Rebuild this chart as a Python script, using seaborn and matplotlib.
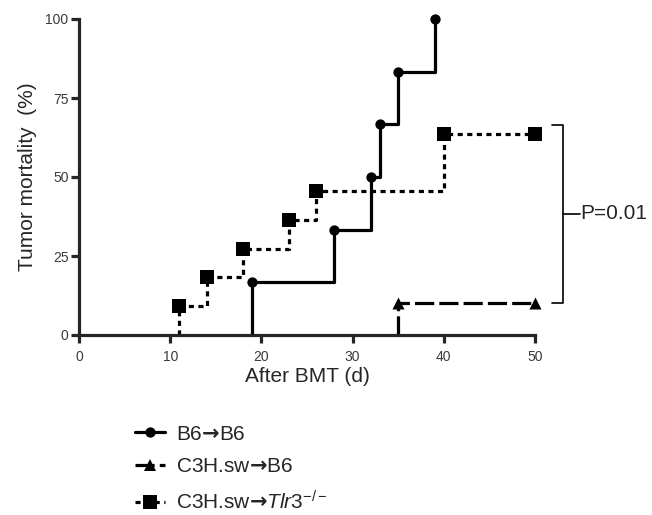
import numpy as np
import pandas as pd
import matplotlib
matplotlib.use("Agg")
import matplotlib.pyplot as plt
from matplotlib.lines import Line2D
import seaborn as sns

# Kaplan-Meier style data (day, cumulative mortality %)
b6_days = [19, 19, 28, 32, 33, 35, 39]
b6_mort = [0, 16.7, 33.3, 50.0, 66.7, 83.3, 100.0]

c3h_days = [35, 35, 50]
c3h_mort = [0, 10.0, 10.0]

tlr3_days = [11, 11, 14, 18, 23, 26, 40, 50]
tlr3_mort = [0, 9.1, 18.2, 27.3, 36.4, 45.5, 63.6, 63.6]

arrow = "$\\mathsf{\u2192}$"
group_labels = ["B6" + arrow + "B6", "C3H.sw" + arrow + "B6",
                "C3H.sw" + arrow + "$\\mathit{Tlr3}^{-/-}$"]
p_text = "P=0.01"

sns.set_style("ticks")
plt.rcParams["font.family"] = ["Liberation Sans", "DejaVu Sans"]
plt.rcParams["mathtext.fontset"] = "custom"
plt.rcParams["mathtext.rm"] = "Liberation Sans"
plt.rcParams["mathtext.it"] = "Liberation Sans:italic"
plt.rcParams["mathtext.sf"] = "DejaVu Sans:bold"

fig = plt.figure(figsize=(6.52, 5.15), dpi=100)
ax = fig.add_axes([79/652, 1-335/515, 456/652, 316/515])

lw = 2.3
series = [
    (b6_days, b6_mort, "o", 55, "-"),
    (c3h_days, c3h_mort, "^", 75, (0, (6, 1.6))),
    (tlr3_days, tlr3_mort, "s", 90, (0, (1.6, 1.4))),
]
for days, mort, mk, ms, ls in series:
    df = pd.DataFrame({"day": days, "mort": mort})
    sns.lineplot(data=df, x="day", y="mort", estimator=None, sort=False,
                 drawstyle="steps-post", color="black", linewidth=lw,
                 linestyle=ls, ax=ax, clip_on=False)
    pts = df.iloc[1:]
    sns.scatterplot(data=pts, x="day", y="mort", marker=mk, s=ms,
                    color="black", edgecolor="black", linewidth=0,
                    ax=ax, clip_on=False, zorder=5)

ax.set_xlim(0, 50)
ax.set_ylim(0, 100)
ax.set_xticks([0, 10, 20, 30, 40, 50])
ax.set_yticks([0, 25, 50, 75, 100])
sns.despine(ax=ax)
for s in ["left", "bottom"]:
    ax.spines[s].set_linewidth(lw)
ax.tick_params(width=lw, length=6, labelsize=10, labelcolor="#3a3a3a")
ax.tick_params(axis="x", pad=5)
ax.tick_params(axis="y", pad=1.5)
ax.set_xlabel("After BMT (d)", fontsize=15, labelpad=2)
ax.set_ylabel("Tumor mortality  (%)", fontsize=15, labelpad=6)

# bracket with p-value
top = tlr3_mort[-1] + 3
bot = c3h_mort[-1]
mid = (top + bot) / 2
tr = ax.get_yaxis_transform()
x0, x1, x2 = 1.037, 1.062, 1.070
ax.plot([x0, x1, x1, x0], [top, top, bot, bot], color="black", lw=1.2,
        transform=tr, clip_on=False)
ax.plot([x1, x2, 1.098], [mid, mid, mid], color="black", lw=1.2,
        transform=tr, clip_on=False)
ax.text(1.100, mid, p_text, transform=tr, fontsize=15, va="center", ha="left")

handles = [Line2D([], [], color="black", lw=lw, ls=ls, marker=mk,
                  markersize=np.sqrt(ms), markeredgewidth=0)
           for _, _, mk, ms, ls in series]
fig.legend(handles, group_labels, loc="upper left",
           bbox_to_anchor=(116/652, 1-406/515), frameon=False, fontsize=15,
           handlelength=1.45, handletextpad=0.55, labelspacing=0.65)

fig.savefig("out.png", dpi=100)
